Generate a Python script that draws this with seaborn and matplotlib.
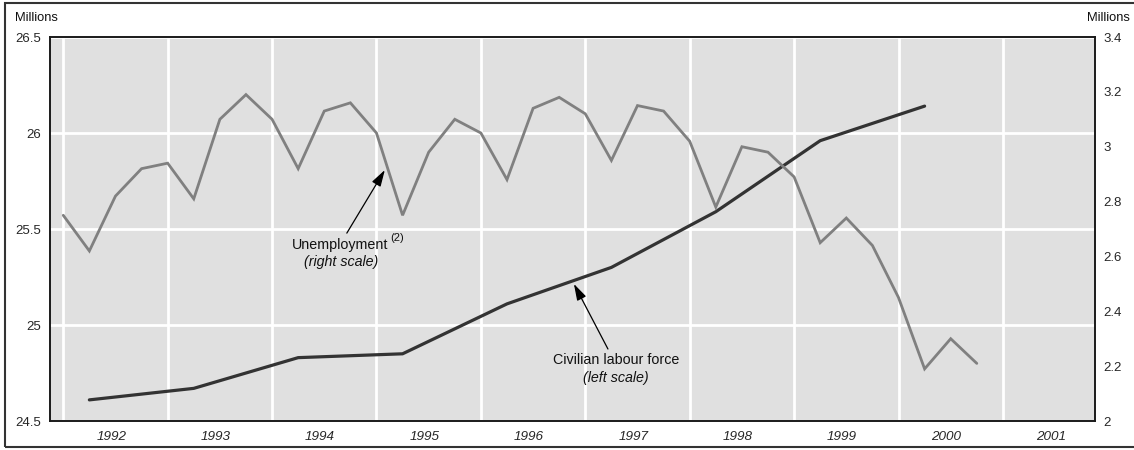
import numpy as np
import pandas as pd
import matplotlib
matplotlib.use("Agg")
import matplotlib.pyplot as plt
import seaborn as sns
from matplotlib.patches import Rectangle

# ---- data -------------------------------------------------------------
years = list(range(1992, 2002))
year_labels = [str(y) for y in years]

# Quarterly unemployment, 1992Q1 .. 2000Q4 (millions, right scale)
unemp_years = list(range(1992, 2001))
unemployment = [2.75, 2.62, 2.82, 2.92,
                2.94, 2.81, 3.10, 3.19,
                3.10, 2.92, 3.13, 3.16,
                3.05, 2.75, 2.98, 3.10,
                3.05, 2.88, 3.14, 3.18,
                3.12, 2.95, 3.15, 3.13,
                3.02, 2.78, 3.00, 2.98,
                2.89, 2.65, 2.74, 2.64,
                2.45, 2.19, 2.30, 2.21]

# Annual civilian labour force, measured in the second quarter (millions, left scale)
labour_years = list(range(1992, 2001))
labour_force = [24.61, 24.67, 24.83, 24.85, 25.11, 25.30, 25.59, 25.96, 26.14]

left_ticks = [24.5, 25, 25.5, 26, 26.5]
left_tick_labels = ["24.5", "25", "25.5", "26", "26.5"]
right_ticks = [2.0, 2.2, 2.4, 2.6, 2.8, 3.0, 3.2, 3.4]
right_tick_labels = ["2", "2.2", "2.4", "2.6", "2.8", "3", "3.2", "3.4"]

unemp_df = pd.DataFrame({
    "t": [y + q / 4 for y in unemp_years for q in range(4)],
    "value": unemployment,
})
labour_df = pd.DataFrame({
    "t": [y + 0.25 for y in labour_years],
    "value": labour_force,
})

# ---- style ------------------------------------------------------------
sns.set_style("darkgrid", {
    "axes.facecolor": "#e0e0e0",
    "grid.color": "white",
    "axes.edgecolor": "#1a1a1a",
})
plt.rcParams["font.family"] = ["Liberation Sans", "DejaVu Sans"]
plt.rcParams["text.color"] = "#111111"

W, H = 1134, 450
fig = plt.figure(figsize=(W / 100, H / 100), dpi=100)
fig.patch.set_facecolor("white")
ax = fig.add_axes([50 / W, 1 - 421 / H, (1095 - 50) / W, (421 - 37) / H])
ax2 = ax.twinx()

sns.lineplot(data=labour_df, x="t", y="value", ax=ax, color="#333333",
             linewidth=2.3, solid_joinstyle="miter")
sns.lineplot(data=unemp_df, x="t", y="value", ax=ax2, color="#808080",
             linewidth=2.0, solid_joinstyle="miter")

# ---- axes -------------------------------------------------------------
ax.set_xlim(1991.873, 2001.882)
ax.set_ylim(24.5, 26.5)
ax2.set_ylim(2.0, 3.4)

ax.set_xticks(years)
ax.set_xticklabels([""] * len(years))
ax.set_xticks([y + 0.46 for y in years], minor=True)
ax.set_xticklabels(year_labels, minor=True, fontstyle="italic", fontsize=9.7)
ax.grid(True, which="major", color="white", linewidth=2.0)
ax.grid(False, which="minor")

ax.set_yticks(left_ticks)
ax.set_yticklabels(left_tick_labels, fontsize=9.5)
ax2.set_yticks(right_ticks)
ax2.set_yticklabels(right_tick_labels, fontsize=9.5)
ax2.grid(False)

ax.tick_params(axis="both", which="both", length=0)
ax.tick_params(axis="x", which="minor", pad=7)
ax.tick_params(axis="y", pad=6.5)
ax2.tick_params(axis="y", length=0, pad=6)

ax.set_xlabel("")
ax.set_ylabel("")
ax2.set_ylabel("")
for a in (ax, ax2):
    for s in a.spines.values():
        s.set_visible(True)
        s.set_color("#1a1a1a")
        s.set_linewidth(1.2)

# ---- labels and arrows --------------------------------------------------
arrow = dict(arrowstyle="-|>,head_length=1.0,head_width=0.3", color="black",
             lw=0.9, shrinkA=0, shrinkB=0)

ax2.text(1994.65, 2.642, "Unemployment", ha="center", va="center", fontsize=10.3)
ax2.text(1995.13, 2.666, "(2)", ha="left", va="center", fontsize=8)
ax2.text(1994.66, 2.580, "(right scale)", ha="center", va="center",
         fontsize=10.3, fontstyle="italic")
ax2.annotate("", xy=(1995.08, 2.915), xytext=(1994.716, 2.685),
             arrowprops=arrow)

ax.text(1997.294, 24.818, "Civilian labour force", ha="center", va="center",
        fontsize=10.3)
ax.text(1997.294, 24.724, "(left scale)", ha="center", va="center",
        fontsize=10.3, fontstyle="italic")
ax.annotate("", xy=(1996.891, 25.214), xytext=(1997.217, 24.875),
            arrowprops=arrow)

fig.text(15 / W, 1 - 18 / H, "Millions", ha="left", va="center", fontsize=9.3)
fig.text(1130 / W, 1 - 18 / H, "Millions", ha="right", va="center", fontsize=9.3)

# outer frame
fig.add_artist(Rectangle((5 / W, 1 - 446.5 / H), 1.2, (446.5 - 3) / H,
                         transform=fig.transFigure, fill=False,
                         edgecolor="#333333", linewidth=1.5, clip_on=False))

fig.savefig("out.png", dpi=100, facecolor="white")
